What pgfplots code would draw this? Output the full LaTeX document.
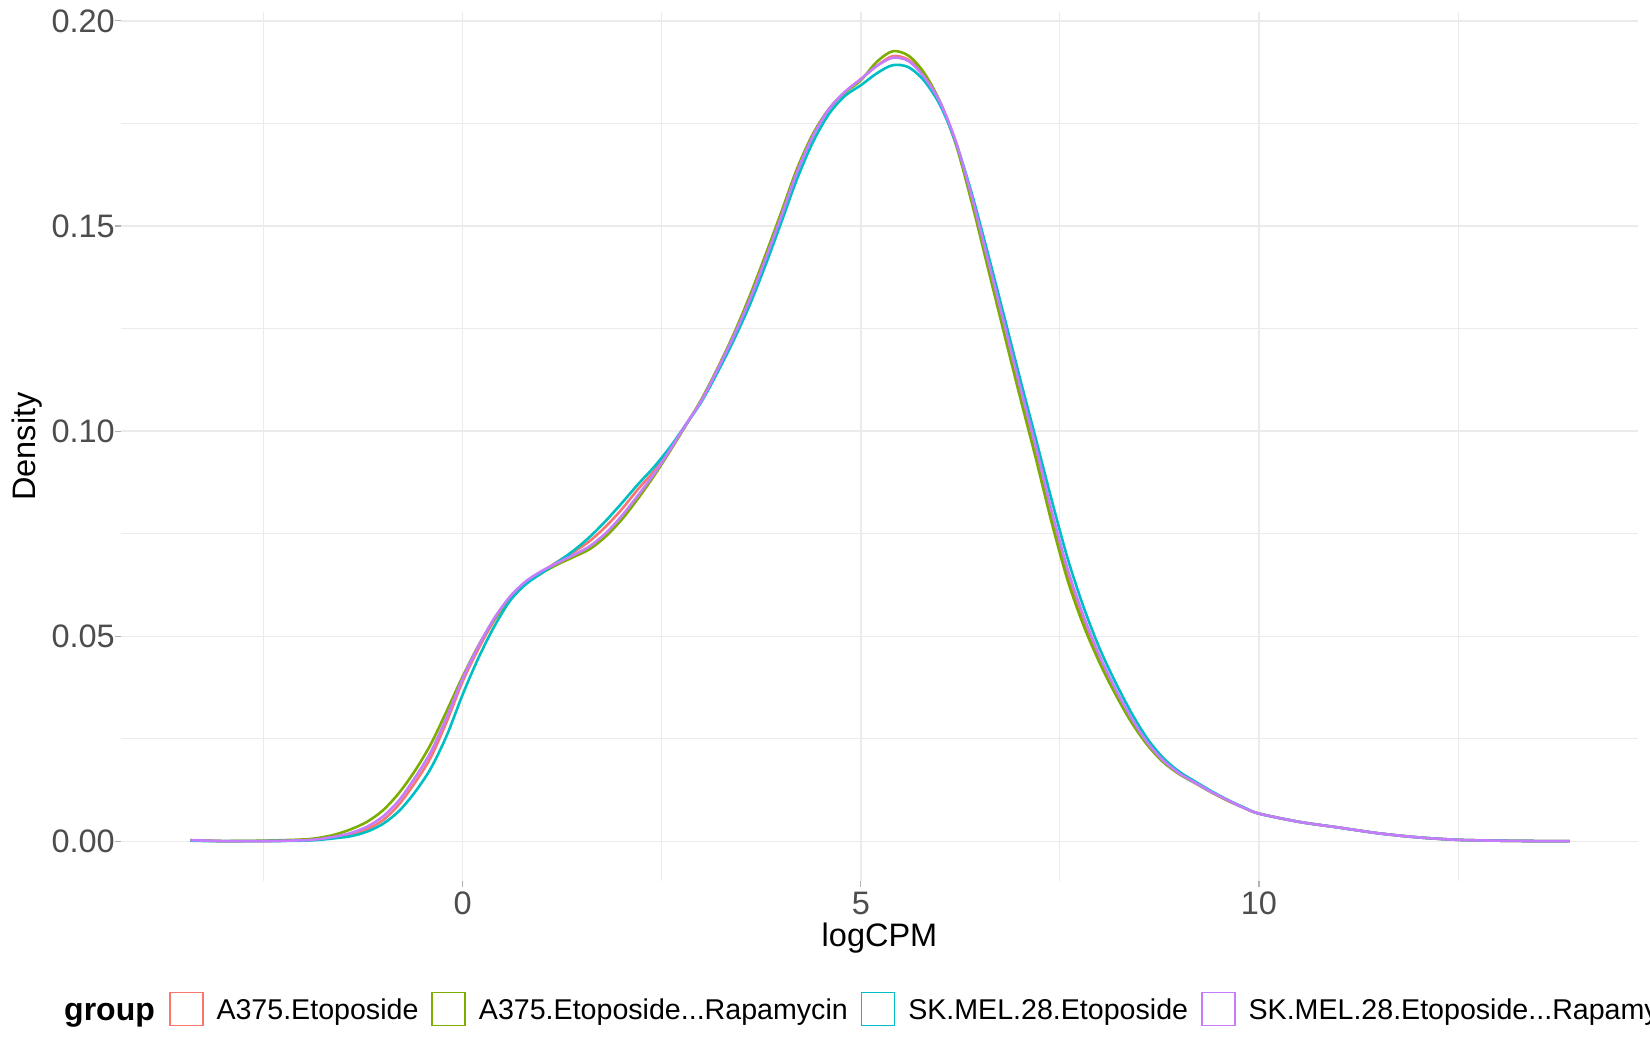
\documentclass[border=0pt]{standalone}
\usepackage{pgfplots}
\pgfplotsset{compat=1.18}
\usepackage{pgfplotstable}
\usepackage{fontspec}
\setmainfont{Liberation Sans}
\definecolor{cA}{HTML}{F8766D}
\definecolor{cB}{HTML}{7CAE00}
\definecolor{cC}{HTML}{00BFC4}
\definecolor{cD}{HTML}{C77CFF}
\definecolor{gridc}{HTML}{EBEBEB}
\definecolor{tickc}{HTML}{4D4D4D}

\pgfplotstableread{
x y
-3.42 0.0003
-3.2 0.0002
-3.0 0.0001
-2.5 0.0001
-2.0 0.0003
-1.8 0.0006
-1.6 0.0010
-1.4 0.0017
-1.2 0.0030
-1.0 0.0052
-0.8 0.0090
-0.6 0.0143
-0.4 0.0205
-0.2 0.0292
0.0 0.0390
0.2 0.0470
0.4 0.0540
0.6 0.0595
0.8 0.0632
1.0 0.0658
1.2 0.0683
1.4 0.0706
1.6 0.0733
1.8 0.0768
2.0 0.0810
2.2 0.0858
2.4 0.0902
2.6 0.0955
2.8 0.1015
3.0 0.1075
3.2 0.1150
3.4 0.1230
3.6 0.1320
3.8 0.1420
4.0 0.1525
4.2 0.1633
4.4 0.1720
4.6 0.1785
4.8 0.1826
5.0 0.1858
5.2 0.1890
5.4 0.1914
5.6 0.1905
5.8 0.1866
6.0 0.1800
6.2 0.1700
6.4 0.1562
6.6 0.1408
6.8 0.1253
7.0 0.1100
7.2 0.0950
7.4 0.0792
7.6 0.0650
7.8 0.0538
8.0 0.0445
8.2 0.0365
8.4 0.0295
8.6 0.0238
8.8 0.0195
9.0 0.0165
9.2 0.0143
9.4 0.0121
9.6 0.0101
9.8 0.0083
10.0 0.0068
10.5 0.0048
11.0 0.0034
11.5 0.0020
12.0 0.0010
12.5 0.0004
13.0 0.0002
13.5 0.0001
13.9 0.0001
}\tabA

\pgfplotstableread{
x y
-3.42 0.0003
-3.2 0.0002
-3.0 0.0001
-2.5 0.0002
-2.0 0.0005
-1.8 0.0009
-1.6 0.0017
-1.4 0.0030
-1.2 0.0048
-1.0 0.0076
-0.8 0.0118
-0.6 0.0172
-0.4 0.0237
-0.2 0.0318
0.0 0.0402
0.2 0.0478
0.4 0.0542
0.6 0.0594
0.8 0.0630
1.0 0.0655
1.2 0.0676
1.4 0.0694
1.6 0.0713
1.8 0.0744
2.0 0.0785
2.2 0.0835
2.4 0.0890
2.6 0.0950
2.8 0.1013
3.0 0.1078
3.2 0.1153
3.4 0.1235
3.6 0.1327
3.8 0.1428
4.0 0.1533
4.2 0.1640
4.4 0.1725
4.6 0.1785
4.8 0.1825
5.0 0.1855
5.2 0.1900
5.4 0.1926
5.6 0.1915
5.8 0.1872
6.0 0.1800
6.2 0.1695
6.4 0.1552
6.6 0.1395
6.8 0.1238
7.0 0.1083
7.2 0.0932
7.4 0.0775
7.6 0.0635
7.8 0.0525
8.0 0.0435
8.2 0.0358
8.4 0.0290
8.6 0.0235
8.8 0.0193
9.0 0.0164
9.2 0.0142
9.4 0.0120
9.6 0.0100
9.8 0.0083
10.0 0.0068
10.5 0.0048
11.0 0.0034
11.5 0.0020
12.0 0.0010
12.5 0.0004
13.0 0.0002
13.5 0.0001
13.9 0.0001
}\tabB

\pgfplotstableread{
x y
-3.42 0.0002
-3.2 0.0001
-3.0 0.0001
-2.5 0.0001
-2.0 0.0002
-1.8 0.0004
-1.6 0.0008
-1.4 0.0013
-1.2 0.0024
-1.0 0.0043
-0.8 0.0074
-0.6 0.0120
-0.4 0.0178
-0.2 0.0258
0.0 0.0358
0.2 0.0448
0.4 0.0525
0.6 0.0588
0.8 0.0628
1.0 0.0655
1.2 0.0682
1.4 0.0710
1.6 0.0743
1.8 0.0782
2.0 0.0825
2.2 0.0870
2.4 0.0912
2.6 0.0960
2.8 0.1015
3.0 0.1072
3.2 0.1143
3.4 0.1220
3.6 0.1305
3.8 0.1403
4.0 0.1508
4.2 0.1615
4.4 0.1705
4.6 0.1773
4.8 0.1817
5.0 0.1843
5.2 0.1872
5.4 0.1892
5.6 0.1887
5.8 0.1853
6.0 0.1793
6.2 0.1700
6.4 0.1575
6.6 0.1430
6.8 0.1280
7.0 0.1128
7.2 0.0980
7.4 0.0830
7.6 0.0688
7.8 0.0570
8.0 0.0470
8.2 0.0387
8.4 0.0313
8.6 0.0250
8.8 0.0203
9.0 0.0170
9.2 0.0146
9.4 0.0123
9.6 0.0102
9.8 0.0084
10.0 0.0068
10.5 0.0048
11.0 0.0034
11.5 0.0020
12.0 0.0010
12.5 0.0004
13.0 0.0002
13.5 0.0001
13.9 0.0001
}\tabC

\pgfplotstableread{
x y
-3.42 0.0003
-3.2 0.0002
-3.0 0.0001
-2.5 0.0001
-2.0 0.0003
-1.8 0.0006
-1.6 0.0012
-1.4 0.0021
-1.2 0.0036
-1.0 0.0061
-0.8 0.0100
-0.6 0.0155
-0.4 0.0218
-0.2 0.0303
0.0 0.0397
0.2 0.0477
0.4 0.0545
0.6 0.0598
0.8 0.0635
1.0 0.0660
1.2 0.0680
1.4 0.0699
1.6 0.0720
1.8 0.0752
2.0 0.0794
2.2 0.0843
2.4 0.0895
2.6 0.0953
2.8 0.1015
3.0 0.1075
3.2 0.1150
3.4 0.1230
3.6 0.1318
3.8 0.1418
4.0 0.1523
4.2 0.1632
4.4 0.1720
4.6 0.1785
4.8 0.1827
5.0 0.1858
5.2 0.1890
5.4 0.1910
5.6 0.1902
5.8 0.1862
6.0 0.1800
6.2 0.1702
6.4 0.1567
6.6 0.1415
6.8 0.1262
7.0 0.1108
7.2 0.0960
7.4 0.0803
7.6 0.0662
7.8 0.0548
8.0 0.0452
8.2 0.0371
8.4 0.0300
8.6 0.0241
8.8 0.0197
9.0 0.0166
9.2 0.0143
9.4 0.0121
9.6 0.0101
9.8 0.0083
10.0 0.0068
10.5 0.0048
11.0 0.0034
11.5 0.0020
12.0 0.0010
12.5 0.0004
13.0 0.0002
13.5 0.0001
13.9 0.0001
}\tabD

\begin{document}
\begin{tikzpicture}
\begin{axis}[
  at={(121bp,169bp)}, anchor=south west,
  scale only axis, width=1517bp, height=869bp,
  xmin=-4.29, xmax=14.76, ymin=-0.00963, ymax=0.20216,
  axis line style={draw=none},
  xtick={0,5,10}, minor xtick={-2.5,2.5,7.5,12.5},
  ytick={0,0.05,0.1,0.15,0.2}, minor ytick={0.025,0.075,0.125,0.175},
  grid=both,
  major grid style={draw=gridc, line width=1.6bp},
  minor grid style={draw=gridc, line width=0.9bp},
  tick pos=left, tick align=outside,
  major tick length=6bp, minor tick length=0pt,
  every tick/.style={draw=gray!60, line width=1.2bp},
  /pgf/number format/assume math mode=true,
  yticklabel style={/pgf/number format/.cd, fixed, fixed zerofill, precision=2, /tikz/.cd,
    font=\fontsize{32.5bp}{39bp}\selectfont, text=tickc, anchor=east, inner sep=0pt},
  xticklabel style={font=\fontsize{32.5bp}{39bp}\selectfont, text=tickc, anchor=north, inner sep=0pt, yshift=-5bp},
  xlabel={logCPM}, ylabel={Density},
  xlabel style={font=\fontsize{32.5bp}{39bp}\selectfont, at={(axis description cs:0.5,0)}, anchor=base, yshift=-65bp, inner sep=0pt},
  ylabel style={font=\fontsize{32.5bp}{39bp}\selectfont, at={(axis description cs:0,0.5)}, anchor=base, rotate=0, yshift=85bp, inner sep=0pt},
  legend columns=-1,
  legend image code/.code={\draw[#1, line width=1.5bp, fill=white] (0bp,-6bp) rectangle (33bp,27bp);},
  legend style={at={(axis description cs:0.03164,-0.1473)}, anchor=west,
    draw=none, fill=none, inner sep=0pt, outer sep=0pt,
    font=\fontsize{28.6bp}{34bp}\selectfont,
    nodes={inner sep=0pt},
    cells={anchor=base west},
    /tikz/every odd column/.append style={column sep=13bp},
    /tikz/every even column/.append style={column sep=13bp}},
]
\addplot[cA, line width=2.6bp, smooth] table[x=x, y=y] {\tabA};
\addlegendentry{A375.Etoposide}
\addplot[cB, line width=2.6bp, smooth] table[x=x, y=y] {\tabB};
\addlegendentry{A375.Etoposide...Rapamycin}
\addplot[cC, line width=2.6bp, smooth] table[x=x, y=y] {\tabC};
\addlegendentry{SK.MEL.28.Etoposide}
\addplot[cD, line width=2.6bp, smooth] table[x=x, y=y] {\tabD};
\addlegendentry{SK.MEL.28.Etoposide...Rapamycin}
\end{axis}
\node[anchor=base west, inner sep=0pt, font=\fontsize{32bp}{38bp}\selectfont\bfseries] at (64bp,30bp) {group};
\pgfresetboundingbox
\useasboundingbox (0,0) rectangle (1650bp,1050bp);
\end{tikzpicture}
\end{document}
